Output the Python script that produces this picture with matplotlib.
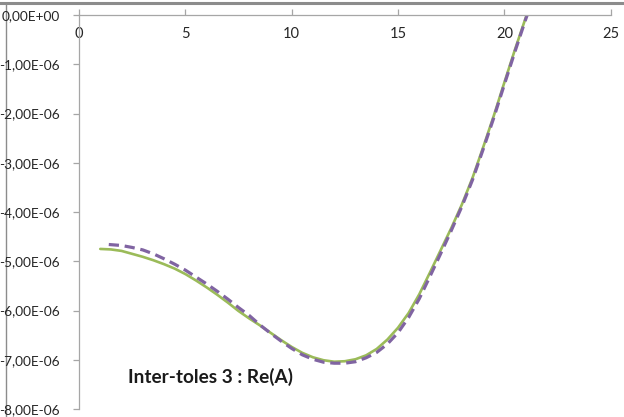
import matplotlib
matplotlib.use("Agg")
import matplotlib.pyplot as plt
from matplotlib.lines import Line2D

# values in units of 1e-6
x_green = [1.0, 1.5, 2.0, 2.5, 3.0, 3.5, 4.0, 4.5, 5.0, 5.5, 6.0, 6.5, 7.0, 7.5, 8.0, 8.5,
           9.0, 9.5, 10.0, 10.5, 11.0, 11.5, 12.0, 12.5, 13.0, 13.5, 14.0, 14.5, 15.0, 15.5,
           16.0, 16.5, 17.0, 17.5, 18.0, 18.5, 19.0, 19.5, 20.0, 20.5, 21.0, 21.5]
y_green = [-4.75, -4.76, -4.79, -4.85, -4.91, -4.98, -5.06, -5.15, -5.26, -5.39, -5.53, -5.68,
           -5.84, -6.01, -6.16, -6.30, -6.45, -6.60, -6.74, -6.86, -6.95, -7.01, -7.04, -7.03,
           -6.99, -6.91, -6.78, -6.59, -6.35, -6.05, -5.67, -5.23, -4.78, -4.33, -3.85, -3.31,
           -2.69, -2.05, -1.37, -0.70, -0.06, 0.55]

x_purple = [1.4, 2.0, 2.5, 3.0, 3.5, 4.0, 4.5, 5.0, 5.5, 6.0, 6.5, 7.0, 7.5, 8.0, 8.5,
            9.0, 9.5, 10.0, 10.5, 11.0, 11.5, 12.0, 12.5, 13.0, 13.5, 14.0, 14.5, 15.0, 15.5,
            16.0, 16.5, 17.0, 17.5, 18.0, 18.5, 19.0, 19.5, 20.0, 20.5, 21.0, 21.5]
y_purple = [-4.66, -4.68, -4.72, -4.77, -4.85, -4.95, -5.06, -5.18, -5.32, -5.46, -5.61, -5.77,
            -5.94, -6.10, -6.29, -6.46, -6.62, -6.77, -6.90, -6.99, -7.05, -7.07, -7.07, -7.04,
            -6.96, -6.85, -6.68, -6.45, -6.14, -5.76, -5.31, -4.85, -4.38, -3.89, -3.35, -2.73,
            -2.09, -1.41, -0.74, -0.09, 0.52]

x_ticks = [0, 5, 10, 15, 20, 25]
y_ticks = [0, -1, -2, -3, -4, -5, -6, -7, -8]
y_labels = ["0,00E+00", "-1,00E-06", "-2,00E-06", "-3,00E-06", "-4,00E-06",
            "-5,00E-06", "-6,00E-06", "-7,00E-06", "-8,00E-06"]
title = "Inter-toles 3 : Re(A)"

plt.rcParams["font.family"] = ["Lato", "DejaVu Sans"]

fig = plt.figure(figsize=(6.24, 4.17), dpi=100)
ax = fig.add_axes([79 / 624, 1 - 409 / 417, (610.7 - 79) / 624, (409 - 15) / 417])

scale = 1e-6
ax.plot(x_green, [v * scale for v in y_green], color="#9BBB59", lw=1.9,
        solid_capstyle="round", solid_joinstyle="round")
ax.plot(x_purple, [v * scale for v in y_purple], color="#8064A2", lw=2.3,
        dashes=(3.2, 1.8), dash_capstyle="butt", dash_joinstyle="round")

ax.set_xlim(0, 25)
ax.set_ylim(-8 * scale, 0)

axis_col = "#A6A6A6"
for s in ("top", "right"):
    ax.spines[s].set_visible(False)
ax.spines["bottom"].set_position(("data", 0))
for s in ("bottom", "left"):
    ax.spines[s].set_color(axis_col)
    ax.spines[s].set_linewidth(0.9)

ax.set_xticks(x_ticks)
ax.set_xticklabels([str(t) for t in x_ticks])
ax.set_yticks([v * scale for v in y_ticks])
ax.set_yticklabels(y_labels)

ax.tick_params(axis="x", direction="in", length=4, width=0.9, color=axis_col,
               pad=9, labelsize=10.5, labelcolor="#262626")
ax.tick_params(axis="y", direction="out", length=4, width=0.9, color=axis_col,
               pad=10, labelsize=9.8, labelcolor="#262626")

# chart label, placed in pixel coordinates
fig.text(128 / 624, 1 - 377 / 417, title, fontsize=13.7, fontweight="bold",
         color="#1a1a1a", va="center", ha="left")

# outer chart border fragments (behind everything else)
fig.add_artist(Line2D([0, 1], [1 - 3 / 417, 1 - 3 / 417], transform=fig.transFigure,
                      color="#8C8C8C", lw=2.2, zorder=-1))
fig.add_artist(Line2D([5.5 / 624, 5.5 / 624], [0, 1 - 3 / 417], transform=fig.transFigure,
                      color="#8C8C8C", lw=1.0, zorder=-1))

fig.savefig("out.png", dpi=100)
